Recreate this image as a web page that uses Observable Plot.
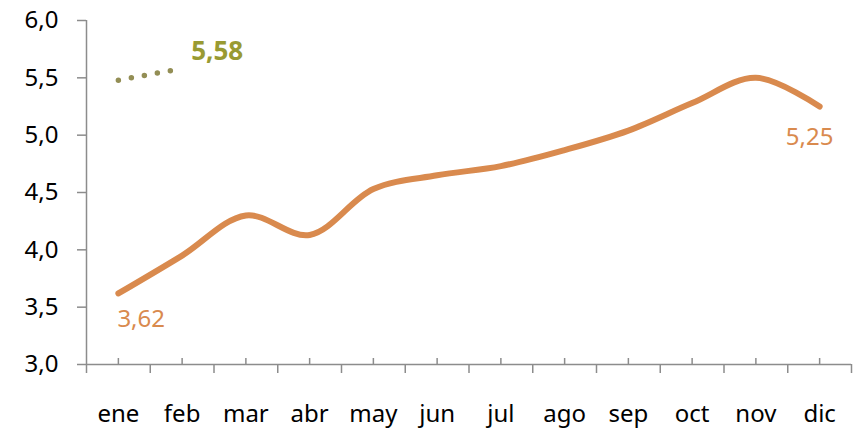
<!DOCTYPE html>
<html><head><meta charset="utf-8">
<script src="https://cdn.jsdelivr.net/npm/d3@7"></script>
<script src="https://cdn.jsdelivr.net/npm/@observablehq/plot@0.6"></script>
<style>body{margin:0;background:#fff} #chart svg{font-family:"Noto Sans",sans-serif;background:#fff}</style>
</head><body><div id="chart"></div>
<script>
const months = ["ene","feb","mar","abr","may","jun","jul","ago","sep","oct","nov","dic"];
const seriesA = [3.62, 3.95, 4.30, 4.13, 4.53, 4.65, 4.73, 4.87, 5.04, 5.28, 5.50, 5.25];
const seriesB = [5.48, 5.58];
const yTicks = [3.0, 3.5, 4.0, 4.5, 5.0, 5.5, 6.0];

const fmt = d => d.toFixed(2).replace(".", ",");
const idxA = months.map((m, i) => i);
const idxB = seriesB.map((v, i) => i);
const centers = idxA;
const bounds = d3.range(-0.5, months.length, 1);

const orange = "#d98a4e";
const olive = "#999a32";
const oliveDots = "#938e55";
const axisGray = "#8c8c8c";

const chart = Plot.plot({
  width: 856,
  height: 435,
  marginLeft: 86,
  marginRight: 5,
  marginTop: 20,
  marginBottom: 71,
  x: {type: "linear", domain: [-0.5, months.length - 0.5], axis: null},
  y: {domain: [3, 6], axis: null},
  marks: [
    Plot.ruleX([-0.5], {y1: 3, y2: 6, stroke: axisGray, strokeWidth: 1.5}),
    Plot.ruleY([3], {x1: -0.5, x2: months.length - 0.5, stroke: axisGray, strokeWidth: 1.5}),
    Plot.axisY(yTicks, {tickSize: 9, tickPadding: 19, tickFormat: d => d.toFixed(1).replace(".", ","), fontSize: 24, stroke: axisGray, fill: "#000", strokeWidth: 1.5}),
    Plot.ruleX(bounds, {x: d => d, y1: 3, y2: 3, insetBottom: -9, stroke: axisGray, strokeWidth: 1.5}),
    Plot.ruleX(centers, {x: d => d, y1: 3, y2: 3, insetBottom: 6, stroke: axisGray, strokeWidth: 1.5}),
    Plot.text(centers, {x: d => d, y: () => 3, text: d => months[d], dy: 50, fontSize: 24, fill: "#000"}),
    Plot.line(idxA, {x: i => i, y: i => seriesA[i], curve: "catmull-rom", stroke: orange, strokeWidth: 6, strokeLinecap: "round", strokeLinejoin: "round"}),
    Plot.line(idxB, {x: i => i, y: i => seriesB[i], stroke: oliveDots, strokeWidth: 5.5, strokeLinecap: "round", strokeDasharray: "0 13.2"}),
    Plot.text([0], {x: i => i, y: i => seriesA[i], text: i => fmt(seriesA[i]), dy: 26, dx: -1, textAnchor: "start", fontSize: 24, fill: orange}),
    Plot.text([11], {x: i => i, y: i => seriesA[i], text: i => fmt(seriesA[i]), dy: 31, dx: -10, textAnchor: "middle", fontSize: 24, fill: orange}),
    Plot.text([1], {x: i => i, y: i => seriesB[i], text: i => fmt(seriesB[i]), dy: -17, dx: 9, textAnchor: "start", fontSize: 26, fontWeight: "bold", fill: olive})
  ]
});
document.getElementById("chart").appendChild(chart);
</script>
</body></html>
